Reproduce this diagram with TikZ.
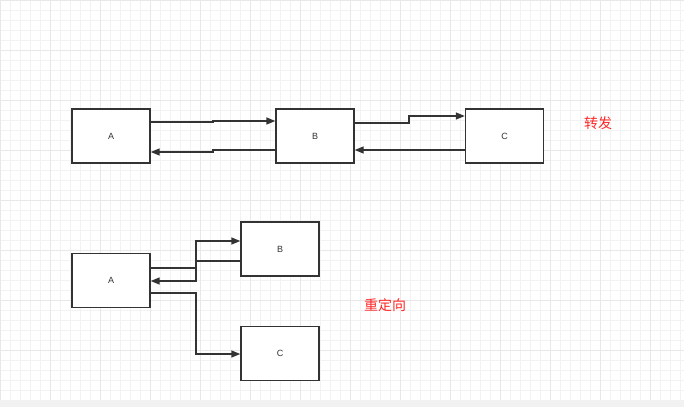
\documentclass[tikz,border=0pt]{standalone}
\usepackage{fontspec}
\setmainfont{Liberation Sans}
\newfontfamily\cjk{Noto Sans CJK SC}
\usetikzlibrary{arrows.meta}
\begin{document}
\begin{tikzpicture}[x=1pt,y=-1pt,
  box/.style={draw=black!80,line width=1.4pt,fill=white,minimum width=78pt,minimum height=54pt,inner sep=0pt,font=\fontsize{9}{10}\selectfont,text=black!80},
  conn/.style={draw=black!80,line width=1.4pt,-{Triangle[length=9pt,width=7pt]}},
  lbl/.style={text=red!85!white,font=\cjk\fontsize{14}{16}\selectfont}]
\useasboundingbox (0,0) rectangle (684,407);
\fill[white] (0,0) rectangle (684,407);
\draw[black!5,line width=0.5pt] (0,0) grid[step=10pt] (684,400);
\draw[black!9,line width=0.6pt] (0,0) grid[step=50pt] (684,400);
\fill[black!5] (0,400) rectangle (684,407);
\node[box] (A1) at (111,136) {A};
\node[box] (B1) at (315,136) {B};
\node[box] (C1) at (504.5,136) {C};
\node[box] (A2) at (111,280.5) {A};
\node[box] (B2) at (280,249) {B};
\node[box] (C2) at (280,353.5) {C};
\draw[conn] (A1.east|-0,122) -- (213,122) -- (213,121) -- (B1.west|-0,121);
\draw[conn] (B1.west|-0,150) -- (213,150) -- (213,152) -- (A1.east|-0,152);
\draw[conn] (B1.east|-0,123) -- (409,123) -- (409,116) -- (C1.west|-0,116);
\draw[conn] (C1.west|-0,150) -- (B1.east|-0,150);
\draw[conn] (A2.east|-0,268) -- (196,268) -- (196,241) -- (B2.west|-0,241);
\draw[conn] (B2.west|-0,261) -- (196,261) -- (196,281) -- (A2.east|-0,281);
\draw[conn] (A2.east|-0,293) -- (196,293) -- (196,354) -- (C2.west|-0,354);
\node[lbl] (t1) at (598,123) {转发};
\node[lbl] (t2) at (385,305) {重定向};
\end{tikzpicture}
\end{document}
